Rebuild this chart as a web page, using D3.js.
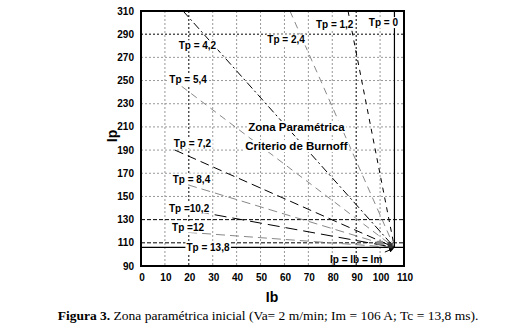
<!DOCTYPE html>
<html>
<head>
<meta charset="utf-8">
<script src="https://cdn.jsdelivr.net/npm/d3@7"></script>
<style>
  body { margin: 0; background: #fff; }
  svg { display: block; }
</style>
</head>
<body>
<div id="chart"></div>
<script>
// operating point: Ip = Ib = Im
const im = 106;
// Tp curves, each a straight line from its start to (Im, Im)
const tpNames = ["1,2", "2,4", "4,2", "5,4", "7,2", "8,4", "10,2", "12"];
const startIb = [86.6, 62.3, 17.6, 17, 14.2, 19.7, 23.4, 19.7];
const startIp = [310, 310, 310, 245, 190, 160, 137, 119];
const tpLabels = ["Tp = 1,2", "Tp = 2,4", "Tp = 4,2", "Tp = 5,4", "Tp = 7,2", "Tp = 8,4", "Tp =10,2", "Tp =12"];
const labelIb = [81, 60.7, 23.6, 19.7, 21.5, 21.1, 20.1, 19.7];
const labelIp = [298, 285, 280, 250.5, 196, 165, 140, 123.6];
const xTicks = [0, 10, 20, 30, 40, 50, 60, 70, 80, 90, 100, 110];
const yTicks = [90, 110, 130, 150, 170, 190, 210, 230, 250, 270, 290, 310];

const width = 514, height = 326;
const svg = d3.select("#chart").append("svg")
    .attr("width", width)
    .attr("height", height)
    .style("font-family", "'Liberation Sans', Arial, sans-serif");

const x = d3.scaleLinear().domain([0, 110]).range([141, 404]);
const y = d3.scaleLinear().domain([90, 310]).range([266, 11]);

// grid
const darkX = [20, 90], darkY = [110, 130, 290];
svg.append("g").selectAll("line")
    .data(xTicks.filter(d => d > 0 && d < 110))
    .join("line")
    .attr("x1", d => x(d)).attr("x2", d => x(d))
    .attr("y1", y(310)).attr("y2", y(90))
    .attr("stroke", d => darkX.includes(d) ? "#000" : "#999")
    .attr("stroke-width", 1)
    .attr("stroke-dasharray", "2,2");
svg.append("g").selectAll("line")
    .data(yTicks.filter(d => d > 90 && d < 310))
    .join("line")
    .attr("x1", x(0)).attr("x2", x(110))
    .attr("y1", d => y(d)).attr("y2", d => y(d))
    .attr("stroke", d => darkY.includes(d) ? "#000" : "#999")
    .attr("stroke-width", 1)
    .attr("stroke-dasharray", d => (d == 110 || d == 130) ? "4,2" : "2,2");

// Tp lines
const styles = [
    {c: "#000", dash: "5,5"},
    {c: "#888", dash: "7,5"},
    {c: "#000", dash: "8,3,2,3"},
    {c: "#888", dash: "7,5"},
    {c: "#000", dash: "9,5"},
    {c: "#888", dash: "9,5"},
    {c: "#000", dash: "12,6"},
    {c: "#888", dash: "9,5"}
];
svg.append("g").selectAll("line")
    .data(tpNames)
    .join("line")
    .attr("x1", (d, i) => x(startIb[i]))
    .attr("y1", (d, i) => y(startIp[i]))
    .attr("x2", x(im)).attr("y2", y(im))
    .attr("stroke", (d, i) => styles[i].c)
    .attr("stroke-width", 1)
    .attr("stroke-dasharray", (d, i) => styles[i].dash);

// Tp = 13,8 and Tp = 0
svg.append("line")
    .attr("x1", x(0)).attr("x2", x(110))
    .attr("y1", y(im)).attr("y2", y(im))
    .attr("stroke", "#000").attr("stroke-width", 1.2);
svg.append("line")
    .attr("x1", x(im)).attr("x2", x(im))
    .attr("y1", y(310)).attr("y2", y(im))
    .attr("stroke", "#000").attr("stroke-width", 1.2);

// frame
svg.append("rect")
    .attr("x", x(0)).attr("y", y(310))
    .attr("width", x(110) - x(0)).attr("height", y(90) - y(310))
    .attr("fill", "none").attr("stroke", "#000").attr("stroke-width", 2);

// labels with white background
function boxLabel(tx, ty, text, size, weight, anchor) {
    const g = svg.append("g");
    const t = g.append("text")
        .attr("x", tx).attr("y", ty)
        .attr("text-anchor", anchor || "middle")
        .attr("dominant-baseline", "central")
        .style("font-size", size + "px")
        .style("font-weight", weight)
        .text(text);
    const b = t.node().getBBox();
    g.insert("rect", "text")
        .attr("x", b.x - 1).attr("y", b.y)
        .attr("width", b.width + 2).attr("height", b.height)
        .attr("fill", "#fff");
}

tpLabels.forEach((t, i) => boxLabel(x(labelIb[i]), y(labelIp[i]), t, 10, "bold"));
boxLabel(x(101.4), y(300), "Tp = 0", 10, "bold");
boxLabel(x(28), y(im), "Tp = 13,8", 10, "bold");
boxLabel(x(65), y(210), "Zona Paramétrica", 11.5, "bold");
boxLabel(x(65), y(193.5), "Criterio de Burnoff", 11.5, "bold");

// markers near the operating point
svg.append("rect")
    .attr("x", x(100) - 3).attr("y", y(110) - 2)
    .attr("width", 6).attr("height", 4).attr("fill", "#888");
svg.append("rect")
    .attr("x", x(104) - 2).attr("y", y(108) - 2)
    .attr("width", 5).attr("height", 5).attr("fill", "#333");

// Ip = Ib = Im label and arrow
svg.append("defs").append("marker")
    .attr("id", "arr").attr("viewBox", "0 0 10 10")
    .attr("refX", 9).attr("refY", 5)
    .attr("markerWidth", 5).attr("markerHeight", 5)
    .attr("orient", "auto")
    .append("path").attr("d", "M0,0L10,5L0,10z").attr("fill", "#000");
svg.append("line")
    .attr("x1", x(102)).attr("y1", y(102))
    .attr("x2", x(im) - 1).attr("y2", y(im) + 1)
    .attr("stroke", "#000").attr("stroke-width", 1)
    .attr("marker-end", "url(#arr)");
svg.append("text")
    .attr("x", x(90)).attr("y", y(96))
    .attr("text-anchor", "middle").attr("dominant-baseline", "central")
    .style("font-size", "10px").style("font-weight", "bold")
    .text("Ip = Ib = Im");

// axes tick labels
svg.append("g").selectAll("text")
    .data(xTicks).join("text")
    .attr("x", d => x(d) + 1).attr("y", 277)
    .attr("text-anchor", "middle").attr("dominant-baseline", "central")
    .style("font-size", "10px").style("font-weight", "bold")
    .text(d => d);
svg.append("g").selectAll("text")
    .data(yTicks).join("text")
    .attr("x", 134).attr("y", d => y(d))
    .attr("text-anchor", "end").attr("dominant-baseline", "central")
    .style("font-size", "10px").style("font-weight", "bold")
    .text(d => d);

// axis titles
svg.append("text")
    .attr("transform", "translate(112,136) rotate(-90)")
    .attr("text-anchor", "middle").attr("dominant-baseline", "central")
    .style("font-size", "14px").style("font-weight", "bold")
    .text("Ip");
svg.append("text")
    .attr("x", 272).attr("y", 297)
    .attr("text-anchor", "middle").attr("dominant-baseline", "central")
    .style("font-size", "14px").style("font-weight", "bold")
    .text("Ib");

// caption
const cap = svg.append("text")
    .attr("x", 268).attr("y", 315)
    .attr("text-anchor", "middle").attr("dominant-baseline", "central")
    .style("font-family", "'Liberation Serif', 'Times New Roman', serif")
    .style("font-size", "13.5px");
cap.append("tspan").style("font-weight", "bold").text("Figura 3.");
cap.append("tspan").text(" Zona paramétrica inicial (Va= 2 m/min; Im = 106 A; Tc = 13,8 ms).");
</script>
</body>
</html>
